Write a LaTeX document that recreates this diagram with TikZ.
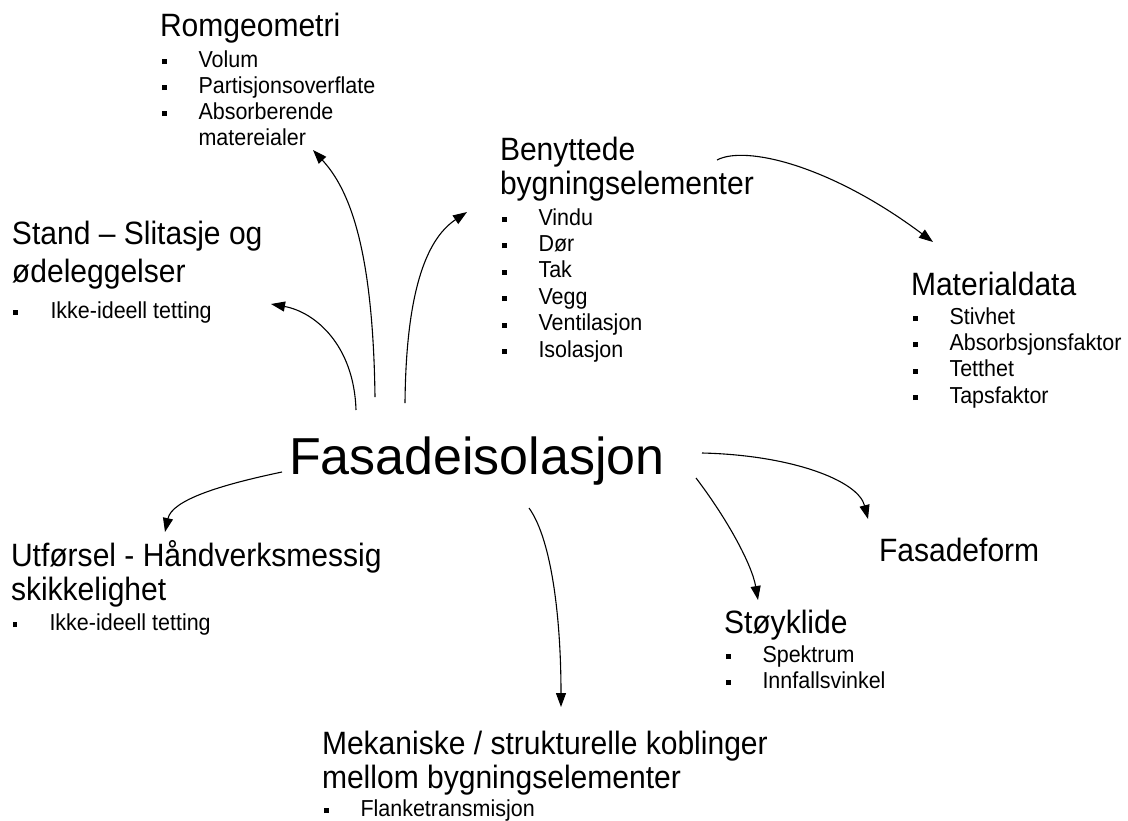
\documentclass[tikz,border=0pt]{standalone}
\usepackage{fontspec}
\setmainfont{Liberation Sans}
\newfontfamily\tallfont{Liberation Sans}[FakeStretch=0.93]
\usetikzlibrary{arrows.meta}
\newcommand\tfont{\tallfont\fontsize{32.3}{36}\selectfont}
\newcommand\ifont{\tallfont\fontsize{23.1}{26}\selectfont}
\newcommand\tl[1]{\hbox{\tfont #1}}
\newcommand\bitem[1]{\hbox{\ifont\hspace*{1.5pt}\rule[3pt]{5pt}{5pt}\hspace*{32pt}#1}}
\newcommand\cont[1]{\hbox{\ifont\hspace*{38.5pt}#1}}
\newcommand\bs[1]{\baselineskip=#1pt\relax}
\tikzset{
  blk/.style={anchor=base west, inner sep=0pt, outer sep=0pt, text=black},
  conn/.style={line width=1.1pt, -{Triangle[length=14pt,width=10pt]}}
}
\begin{document}
\begin{tikzpicture}[x=1pt,y=-1pt]
\useasboundingbox[fill=white] (0,0) rectangle (1128,820);
% center
\node[blk] (fas) at (289,474) {\fontsize{52}{60}\selectfont Fasadeisolasjon};
% blocks
\node[blk] (rom) at (160,36) {\vtop{\tl{Romgeometri}\bs{31}\bitem{Volum}\bs{26}\bitem{Partisjonsoverflate}\bitem{Absorberende}\cont{matereialer}}};
\node[blk] (stand) at (12,244) {\vtop{\bs{38}\tl{Stand – Slitasje og}\tl{ødeleggelser}\bs{36}\bitem{Ikke-ideell tetting}}};
\node[blk] (ben) at (500,160) {\vtop{\bs{34}\tl{Benyttede}\tl{bygningselementer}\bs{31}\bitem{Vindu}\bs{26.4}\bitem{Dør}\bitem{Tak}\bitem{Vegg}\bitem{Ventilasjon}\bitem{Isolasjon}}};
\node[blk] (mat) at (911,295) {\vtop{\tl{Materialdata}\bs{29}\bitem{Stivhet}\bs{26.4}\bitem{Absorbsjonsfaktor}\bitem{Tetthet}\bitem{Tapsfaktor}}};
\node[blk] (utf) at (11,566) {\vtop{\bs{34}\tl{Utførsel - Håndverksmessig}\tl{skikkelighet}\bs{30}\bitem{Ikke-ideell tetting}}};
\node[blk] (sty) at (724,633) {\vtop{\tl{Støyklide}\bs{29}\bitem{Spektrum}\bs{26}\bitem{Innfallsvinkel}}};
\node[blk] (fform) at (879,561) {\vtop{\tl{Fasadeform}}};
\node[blk] (mek) at (322,754) {\vtop{\bs{34}\tl{Mekaniske / strukturelle koblinger}\tl{mellom bygningselementer}\bs{28}\bitem{Flanketransmisjon}}};
% connector end points
\coordinate (aStand) at (356,410);  \coordinate (bStand) at (271,304);
\coordinate (aRom) at (375,397);    \coordinate (bRom) at (313,150);
\coordinate (aBen) at (405,403);    \coordinate (bBen) at (467,212);
\coordinate (aMat) at (717,160);    \coordinate (bMat) at (933,242);
\coordinate (aUtf) at (282,472);    \coordinate (bUtf) at (165,532);
\coordinate (aMek) at (529,508);    \coordinate (bMek) at (561,707);
\coordinate (aSty) at (696,478);    \coordinate (bSty) at (758,600);
\coordinate (aFf) at (702,453);     \coordinate (bFf) at (868,519);
% connectors
\draw[conn] (aStand) .. controls (354,345) and (315,312) .. (bStand);
\draw[conn] (aRom) .. controls (373,250) and (350,190) .. (bRom);
\draw[conn] (aBen) .. controls (406,295) and (425,240) .. (bBen);
\draw[conn] (aMat) .. controls (745,145) and (830,165) .. (bMat);
\draw[conn] (aUtf) .. controls (220,485) and (172,500) .. (bUtf);
\draw[conn] (aMek) .. controls (552,540) and (561,620) .. (bMek);
\draw[conn] (aSty) .. controls (728,520) and (752,565) .. (bSty);
\draw[conn] (aFf) .. controls (790,455) and (858,480) .. (bFf);
\end{tikzpicture}
\end{document}
